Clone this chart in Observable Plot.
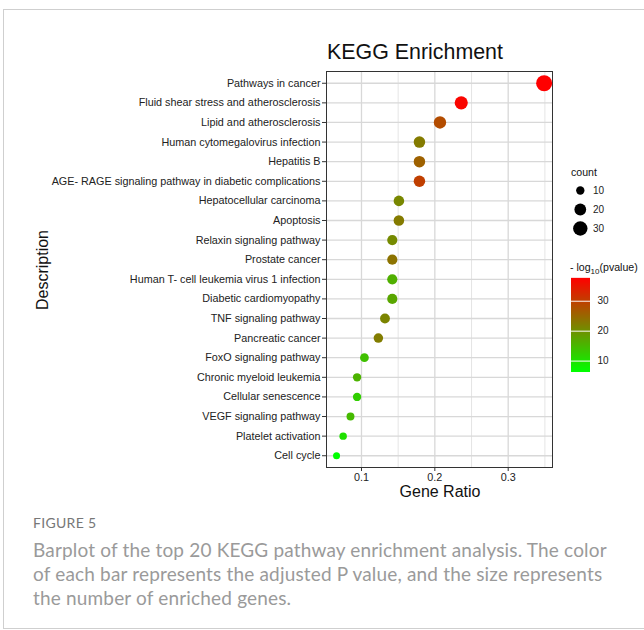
<!DOCTYPE html>
<html>
<head>
<meta charset="utf-8">
<script src="https://cdn.jsdelivr.net/npm/d3@7"></script>
<script src="https://cdn.jsdelivr.net/npm/@observablehq/plot@0.6"></script>
<style>
  html, body { margin: 0; padding: 0; background: #fff; }
  body { width: 644px; height: 630px; position: relative; overflow: hidden; font-family: "Liberation Sans", Arial, sans-serif; }
  .card { position: absolute; left: 3px; top: 9px; width: 700px; height: 620px; border: 1px solid #cfcfcf; box-sizing: border-box; }
  .abs { position: absolute; }
  #title { left: 327px; top: 40px; font-size: 21.4px; color: #111; white-space: nowrap; }
  #ylab { left: 43px; top: 270px; font-size: 16px; color: #111; transform: translate(-50%, -50%) rotate(-90deg); white-space: nowrap; }
  #xlab { left: 440px; top: 492px; font-size: 16px; color: #111; transform: translate(-50%, -50%); white-space: nowrap; }
  #fig { left: 33px; top: 514px; font-family: Lato, "Open Sans", sans-serif; font-size: 14px; color: #777; letter-spacing: 0.3px; }
  #cap { left: 33px; top: 538px; font-family: Lato, "Open Sans", sans-serif; font-size: 19px; letter-spacing: 0.17px; line-height: 24px; color: #9a9a9a; white-space: nowrap; }
  .legtitle { font-size: 10.6px; color: #111; white-space: nowrap; }
</style>
</head>
<body>
<div class="card"></div>
<div id="title" class="abs">KEGG Enrichment</div>
<div id="ylab" class="abs">Description</div>
<div id="xlab" class="abs">Gene Ratio</div>
<div id="main" class="abs" style="left:0;top:0"></div>
<div class="abs legtitle" style="left:571px;top:166px">count</div>
<div id="sizeLegend" class="abs" style="left:566px;top:180px"></div>
<div class="abs legtitle" style="left:570px;top:261px">- log<sub style="font-size:8px">10</sub>(pvalue)</div>
<div id="colorLegend" class="abs" style="left:566px;top:270px"></div>
<div id="fig" class="abs">FIGURE 5</div>
<div id="cap" class="abs">Barplot of the top 20 KEGG pathway enrichment analysis. The color<br>of each bar represents the adjusted P value, and the size represents<br>the number of enriched genes.</div>
<script>
// KEGG pathways, top to bottom
const pathways = [
  "Pathways in cancer",
  "Fluid shear stress and atherosclerosis",
  "Lipid and atherosclerosis",
  "Human cytomegalovirus infection",
  "Hepatitis B",
  "AGE- RAGE signaling pathway in diabetic complications",
  "Hepatocellular carcinoma",
  "Apoptosis",
  "Relaxin signaling pathway",
  "Prostate cancer",
  "Human T- cell leukemia virus 1 infection",
  "Diabetic cardiomyopathy",
  "TNF signaling pathway",
  "Pancreatic cancer",
  "FoxO signaling pathway",
  "Chronic myeloid leukemia",
  "Cellular senescence",
  "VEGF signaling pathway",
  "Platelet activation",
  "Cell cycle"
];
const geneRatio = [0.349, 0.236, 0.207, 0.179, 0.179, 0.179, 0.151, 0.151, 0.142, 0.142,
                   0.142, 0.142, 0.132, 0.123, 0.104, 0.094, 0.094, 0.085, 0.075, 0.066];
const geneCount = [37, 25, 22, 19, 19, 19, 16, 16, 15, 15,
                   15, 15, 14, 13, 11, 10, 10, 9, 8, 7];
const negLog10P = [37.6, 37.0, 28.2, 22.5, 25.7, 29.8, 21.0, 22.5, 20.6, 23.5,
                   16.0, 17.2, 21.3, 22.2, 14.0, 15.6, 12.2, 14.7, 10.0, 6.2];
const xTicks = [0.1, 0.2, 0.3];
const xMinorGrid = [0.15, 0.25, 0.35];
const countBreaks = [10, 20, 30];
const pBreaks = [10, 20, 30];

const rows = pathways.map((p, i) => ({pathway: p, ratio: geneRatio[i], count: geneCount[i], p: negLog10P[i]}));

const colorScale = {type: "linear", domain: [6.2, 37.6], range: ["#00ff00", "#ff0000"], interpolate: "rgb"};
const rScale = {type: "sqrt", domain: [7, 37], range: [3.5, 8]};
const font = "Liberation Sans, Arial, sans-serif";

const main = Plot.plot({
  width: 600,
  height: 510,
  marginLeft: 326,
  marginRight: 48,
  marginTop: 71,
  marginBottom: 43,
  style: {fontFamily: font, fontSize: "10.8px", color: "#222", background: "transparent"},
  x: {domain: [0.0523, 0.3604], ticks: xTicks, tickFormat: d3.format(".1f"), label: null},
  y: {type: "point", domain: pathways, padding: 0.6, round: false, label: null},
  r: rScale,
  color: colorScale,
  marks: [
    Plot.gridX(xMinorGrid, {stroke: "#e2e2e2", strokeWidth: 0.9, strokeOpacity: 1}),
    Plot.gridX(xTicks, {stroke: "#d8d8d8", strokeWidth: 1.3, strokeOpacity: 1}),
    Plot.gridY(pathways, {stroke: "#d8d8d8", strokeWidth: 1.3, strokeOpacity: 1}),
    Plot.frame({stroke: "#333", strokeWidth: 1}),
    Plot.axisX({ticks: xTicks, tickSize: 4, tickPadding: 2, stroke: "#333", tickFormat: d3.format(".1f"), fontSize: 10.8, label: null}),
    Plot.axisY({tickSize: 4, tickPadding: 2, stroke: "#333", fontSize: 10.8, label: null}),
    Plot.dot(rows, {x: "ratio", y: "pathway", r: "count", fill: "p", stroke: null})
  ]
});
document.getElementById("main").append(main);

// size legend: gene count
const sizeLeg = Plot.plot({
  width: 60,
  height: 60,
  margin: 0,
  style: {fontFamily: font, fontSize: "10px", background: "transparent"},
  x: {domain: [0, 1], range: [0, 60], axis: null},
  y: {type: "point", domain: countBreaks, range: [10, 48], padding: 0, axis: null},
  r: rScale,
  marks: [
    Plot.dot(countBreaks, {x: () => 0.23, y: d => d, r: d => d, fill: "black", stroke: null}),
    Plot.text(countBreaks, {x: () => 0.44, y: d => d, text: d => String(d), textAnchor: "start", fill: "#222", fontSize: 10})
  ]
});
document.getElementById("sizeLegend").append(sizeLeg);

// colour bar: -log10(pvalue)
const lo = colorScale.domain[0], hi = colorScale.domain[1];
const nSlices = 94;
const slices = d3.range(nSlices).map(i => ({a: lo + (hi - lo) * i / nSlices, b: lo + (hi - lo) * (i + 1) / nSlices}));
const barX0 = 5, barX1 = 24;
const colorLeg = Plot.plot({
  width: 60,
  height: 108,
  margin: 0,
  style: {fontFamily: font, fontSize: "10px", background: "transparent"},
  x: {type: "identity"},
  y: {domain: [lo, hi], range: [102, 8], axis: null},
  color: colorScale,
  marks: [
    Plot.rectY(slices, {x1: barX0, x2: barX1, y1: "a", y2: d => d.b + 0.05, fill: d => (d.a + d.b) / 2, stroke: null}),
    Plot.tickY(pBreaks, {x1: barX0, x2: barX0 + 4, y: d => d, stroke: "white", strokeOpacity: 0.6, strokeWidth: 1}),
    Plot.tickY(pBreaks, {x1: barX1 - 4, x2: barX1, y: d => d, stroke: "white", strokeOpacity: 0.6, strokeWidth: 1}),
    Plot.text(pBreaks, {x: barX1 + 7, y: d => d, text: d => String(d), textAnchor: "start", fill: "#222", fontSize: 10})
  ]
});
document.getElementById("colorLegend").append(colorLeg);
</script>
</body>
</html>
